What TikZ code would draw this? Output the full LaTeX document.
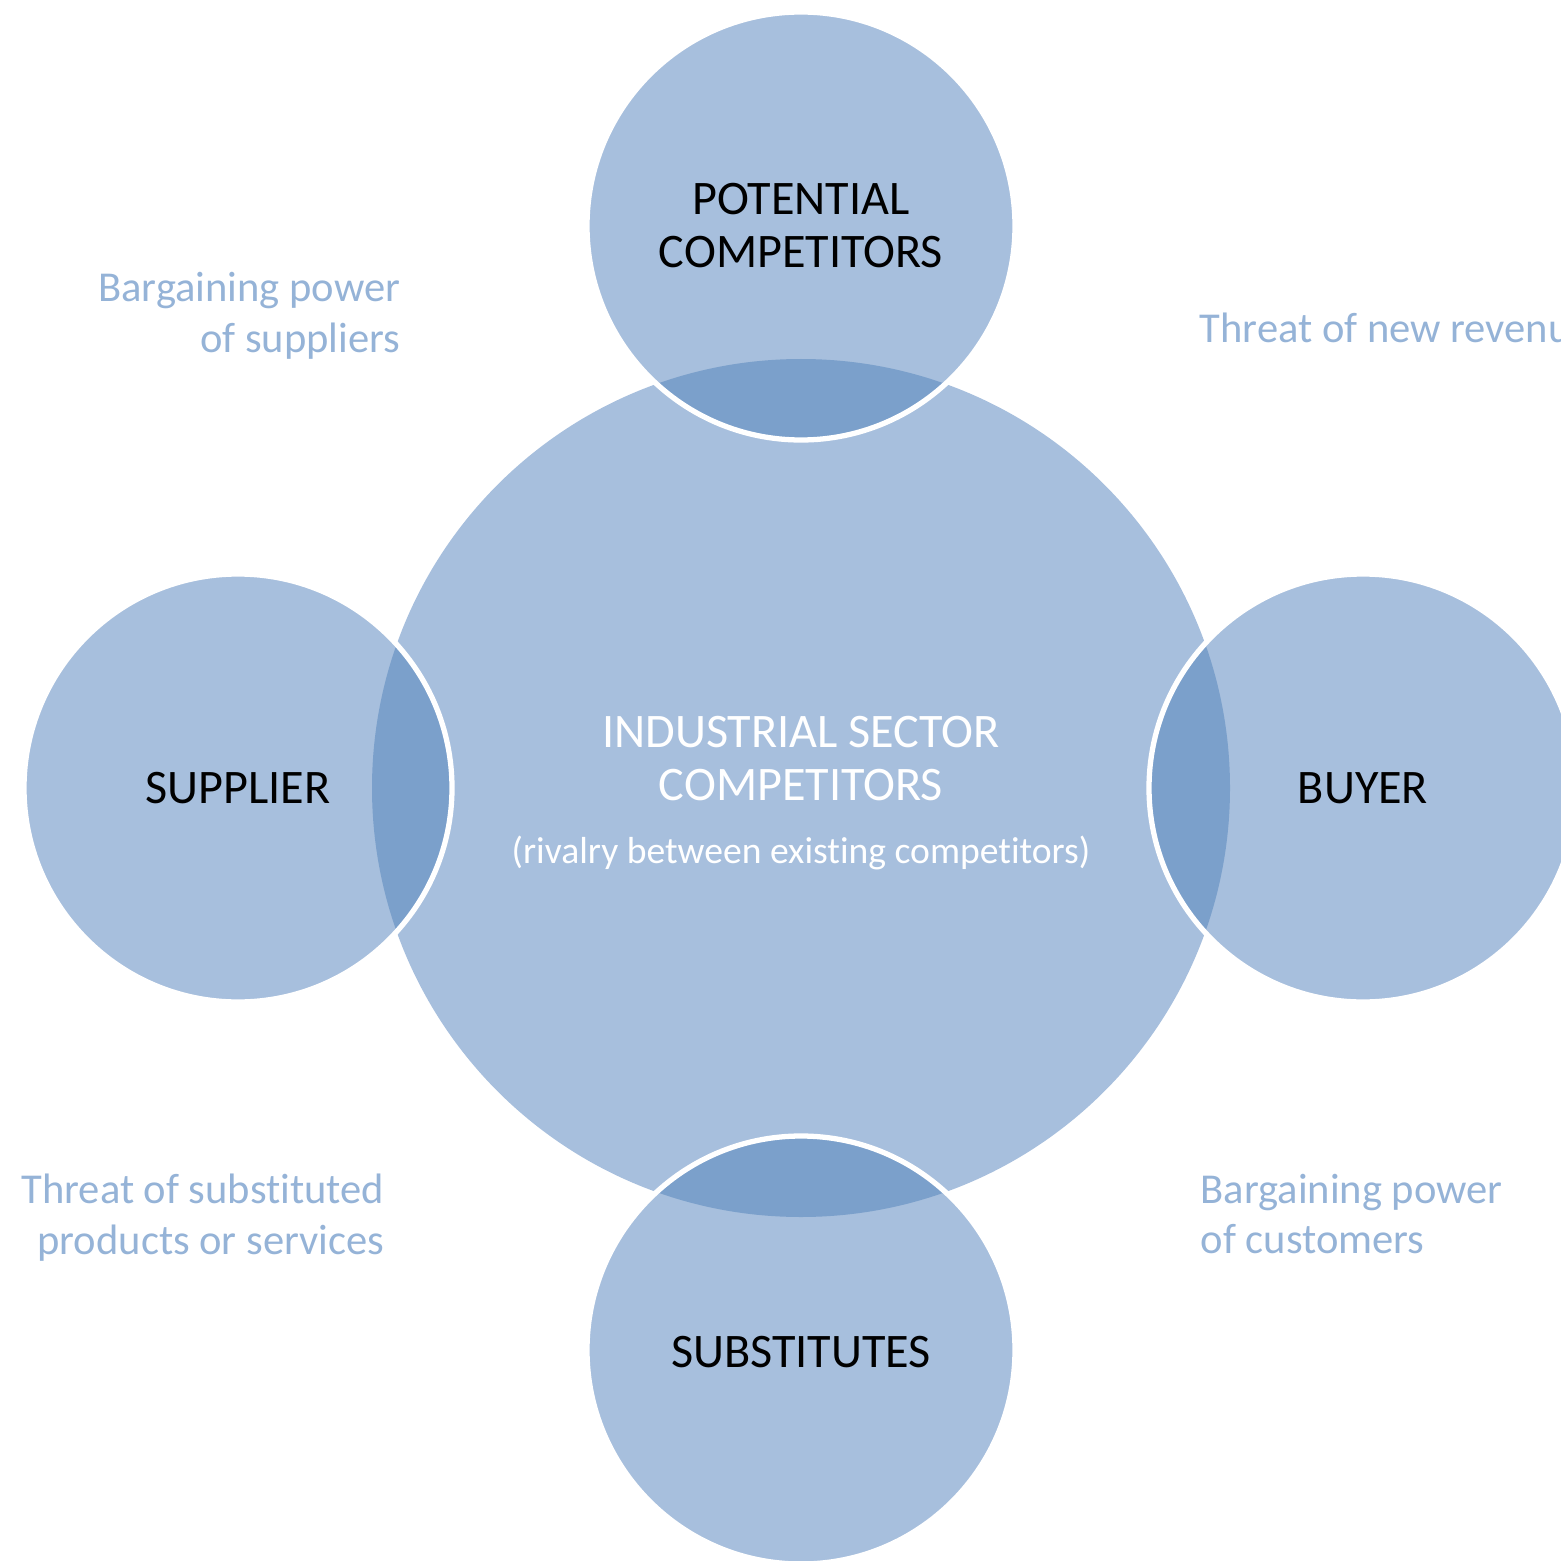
\documentclass[tikz,border=0pt]{standalone}
\usepackage{fontspec}
\setmainfont[Ligatures={NoCommon}]{Carlito}
\definecolor{cfill}{HTML}{A7BFDD}
\definecolor{clens}{HTML}{7BA0CB}
\definecolor{clabel}{HTML}{95B3D7}
\begin{document}
\begin{tikzpicture}[x=0.01cm,y=-0.01cm,
  bigtxt/.style={font=\fontsize{13.7}{15}\selectfont, inner sep=0pt},
  lbl/.style={font=\fontsize{12.1}{13}\selectfont, text=clabel, inner sep=0pt},
  sub/.style={font=\fontsize{10.7}{12}\selectfont, text=white, inner sep=0pt}]
\useasboundingbox (0,0) rectangle (1561,1561);
\def\R{429}
\def\r{214}
\coordinate (C) at (801,788);
\fill[cfill] (C) circle (\R);
\foreach \name/\x/\y in {top/801/226, left/238/788, right/1363/788, bot/801/1350}{
  \coordinate (\name) at (\x,\y);
  \fill[cfill] (\name) circle (\r);
  \begin{scope}
    \clip (C) circle (\R);
    \fill[clens] (\name) circle (\r);
  \end{scope}
  \draw[white, line width=1.5pt] (\name) circle (\r);
}
% texts in circles
\node[bigtxt, anchor=base] (t1) at (801,215) {POTENTIAL};
\node[bigtxt, anchor=base] (t2) at (801,268) {COMPETITORS};
\node[bigtxt, anchor=base] (l1) at (238,803) {SUPPLIER};
\node[bigtxt, anchor=base] (r1) at (1363,803) {BUYER};
\node[bigtxt, anchor=base] (b1) at (801,1367) {SUBSTITUTES};
\node[bigtxt, anchor=base, text=white] (c1) at (801,747) {INDUSTRIAL SECTOR};
\node[bigtxt, anchor=base, text=white] (c2) at (801,800) {COMPETITORS};
\node[sub, anchor=base] (c3) at (801,863) {(rivalry between existing competitors)};
% outer labels
\node[lbl, anchor=base east] (a1) at (401,302) {Bargaining power};
\node[lbl, anchor=base east] (a2) at (401,353) {of suppliers};
\node[lbl, anchor=base west] (n1) at (1199,343) {Threat of new revenue};
\node[lbl, anchor=base east] (s1) at (385,1203) {Threat of substituted};
\node[lbl, anchor=base east] (s2) at (385,1254) {products or services};
\node[lbl, anchor=base west] (k1) at (1200,1203) {Bargaining power};
\node[lbl, anchor=base west] (k2) at (1200,1253) {of customers};
\end{tikzpicture}
\end{document}
